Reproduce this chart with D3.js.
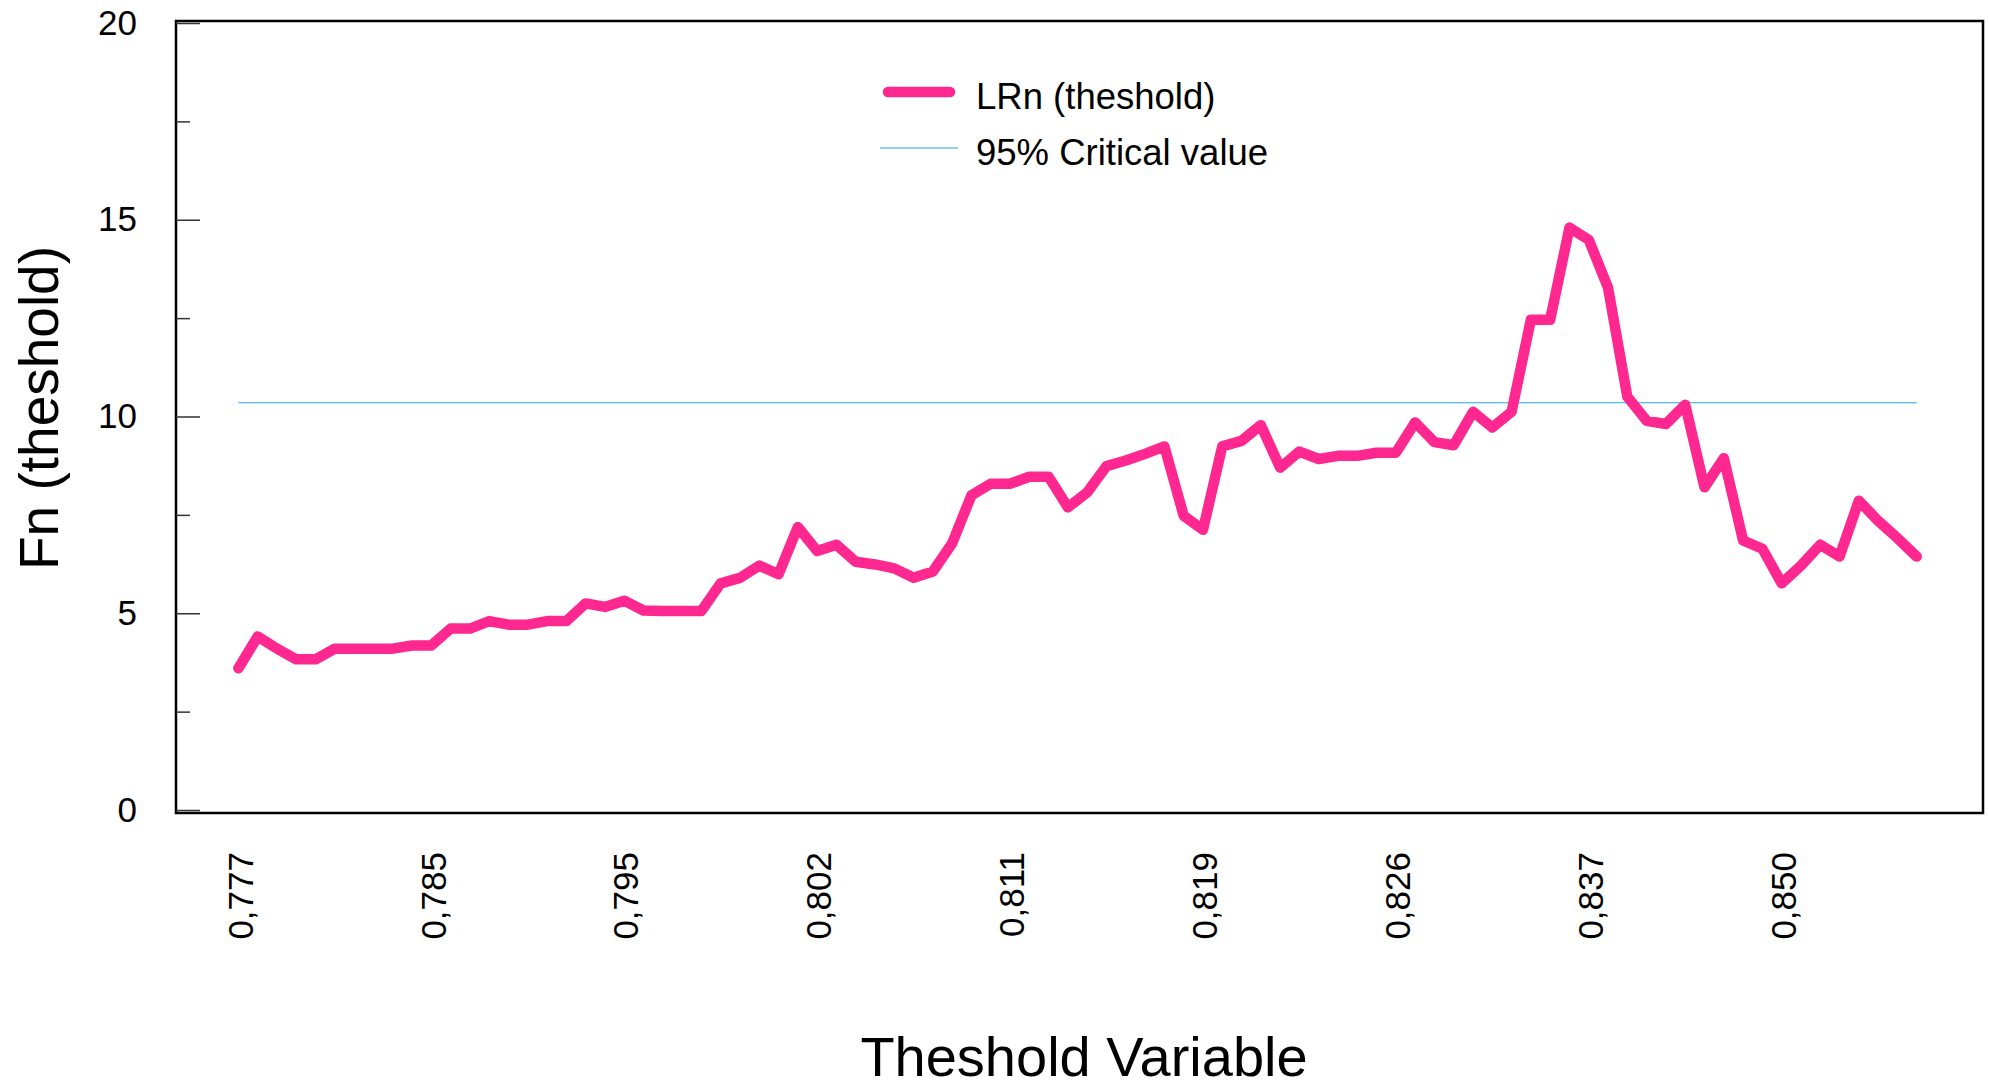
<!DOCTYPE html>
<html>
<head>
<meta charset="utf-8">
<script src="https://d3js.org/d3.v7.min.js"></script>
<style>
  body { margin: 0; background: #fff; }
  text { font-family: "Liberation Sans", Arial, sans-serif; fill: #000; }
</style>
</head>
<body>
<svg id="drawing_region"></svg>
<script>
// LRn statistic at each threshold value (88 grid points)
const lrn = [
    3.60, 4.41, 4.10, 3.83, 3.83, 4.10, 4.10, 4.10, 4.10, 4.18,
    4.18, 4.61, 4.61, 4.80, 4.71, 4.71, 4.80, 4.80, 5.25, 5.16,
    5.32, 5.07, 5.06, 5.06, 5.06, 5.76, 5.90, 6.21, 5.99, 7.19,
    6.58, 6.74, 6.31, 6.24, 6.14, 5.90, 6.06, 6.78, 8.00, 8.29,
    8.29, 8.47, 8.47, 7.69, 8.07, 8.74, 8.88, 9.05, 9.24, 7.48,
    7.12, 9.24, 9.38, 9.78, 8.70, 9.11, 8.92, 9.00, 9.00, 9.08,
    9.08, 9.85, 9.35, 9.27, 10.12, 9.72, 10.12, 12.46, 12.46, 14.80,
    14.49, 13.27, 10.50, 9.89, 9.81, 10.30, 8.20, 8.94, 6.85, 6.64,
    5.76, 6.21, 6.74, 6.44, 7.86, 7.35, 6.91, 6.44
];
const criticalValue = 10.35;

// threshold labels shown every 10th point
const tickIndex  = [0, 10, 20, 30, 40, 50, 60, 70, 80];
const tickLabels = ['0,777', '0,785', '0,795', '0,802', '0,811', '0,819', '0,826', '0,837', '0,850'];

const yMajor = [0, 5, 10, 15, 20];
const yMinor = [2.5, 7.5, 12.5, 17.5];

const seriesNames = ['LRn (theshold)', '95% Critical value'];

const config = {
    width: 1989,
    height: 1089,
    frame: {left: 176, top: 21, right: 1983, bottom: 813},
    pink: '#fe2890',
    blue: '#27a4e2'
};

const svg = d3.select('#drawing_region')
    .attr('width', config.width)
    .attr('height', config.height);

const xscale = d3.scaleLinear()
    .domain([0, lrn.length - 1])
    .range([238.4, 1916.7]);

const yscale = d3.scaleLinear()
    .domain([0, 20])
    .range([810, 23]);

// frame
svg.append('rect')
    .attr('x', config.frame.left)
    .attr('y', config.frame.top)
    .attr('width', config.frame.right - config.frame.left)
    .attr('height', config.frame.bottom - config.frame.top)
    .attr('fill', 'none')
    .attr('stroke', '#000')
    .attr('stroke-width', 2.5);

// y axis, ticks point inward
const yaxis = d3.axisLeft(yscale)
    .tickValues(yMajor)
    .tickSizeInner(-24)
    .tickSizeOuter(0)
    .tickPadding(39);

const yaxis_group = svg.append('g')
    .attr('transform', `translate(${config.frame.left}, 0)`)
    .call(yaxis);
yaxis_group.select('.domain').remove();
yaxis_group.selectAll('line').attr('stroke', '#333').attr('stroke-width', 1.5);
yaxis_group.selectAll('text')
    .attr('font-size', 35)
    .attr('font-family', '"Liberation Sans", Arial, sans-serif')
    .attr('fill', '#000');

const yminor_group = svg.append('g')
    .attr('transform', `translate(${config.frame.left}, 0)`)
    .call(d3.axisLeft(yscale).tickValues(yMinor).tickSizeInner(-14).tickSizeOuter(0).tickFormat(''));
yminor_group.select('.domain').remove();
yminor_group.selectAll('line').attr('stroke', '#333').attr('stroke-width', 1.5);

// x tick labels (rotated)
svg.append('g').selectAll('text')
    .data(tickIndex)
    .join('text')
    .attr('transform', (d) => `translate(${xscale(d) + 2}, 852) rotate(-90)`)
    .attr('text-anchor', 'end')
    .attr('dy', '0.35em')
    .attr('font-size', 35)
    .text((d, i) => tickLabels[i]);

// critical value line
svg.append('line')
    .attr('x1', xscale(0))
    .attr('x2', xscale(lrn.length - 1))
    .attr('y1', yscale(criticalValue))
    .attr('y2', yscale(criticalValue))
    .attr('stroke', config.blue)
    .attr('stroke-width', 1.2);

// LRn line
const line = d3.line()
    .x((d, i) => xscale(i))
    .y((d) => yscale(d));

svg.append('path')
    .attr('d', line(lrn))
    .attr('fill', 'none')
    .attr('stroke', config.pink)
    .attr('stroke-width', 10.5)
    .attr('stroke-linejoin', 'round')
    .attr('stroke-linecap', 'round');

// legend
const legend = svg.append('g');
legend.append('line')
    .attr('x1', 888).attr('x2', 950)
    .attr('y1', 92).attr('y2', 92)
    .attr('stroke', config.pink)
    .attr('stroke-width', 10.5)
    .attr('stroke-linecap', 'round');
legend.append('line')
    .attr('x1', 880).attr('x2', 958)
    .attr('y1', 148).attr('y2', 148)
    .attr('stroke', config.blue)
    .attr('stroke-width', 1.2);
legend.selectAll('text')
    .data(seriesNames)
    .join('text')
    .attr('x', 976)
    .attr('y', (d, i) => 109 + i * 56)
    .attr('font-size', 36.5)
    .text((d) => d);

// axis titles
svg.append('text')
    .attr('x', 1084)
    .attr('y', 1076)
    .attr('text-anchor', 'middle')
    .attr('font-size', 56)
    .text('Theshold Variable');

svg.append('text')
    .attr('transform', 'translate(58, 408) rotate(-90)')
    .attr('text-anchor', 'middle')
    .attr('font-size', 55)
    .text('Fn (theshold)');
</script>
</body>
</html>
